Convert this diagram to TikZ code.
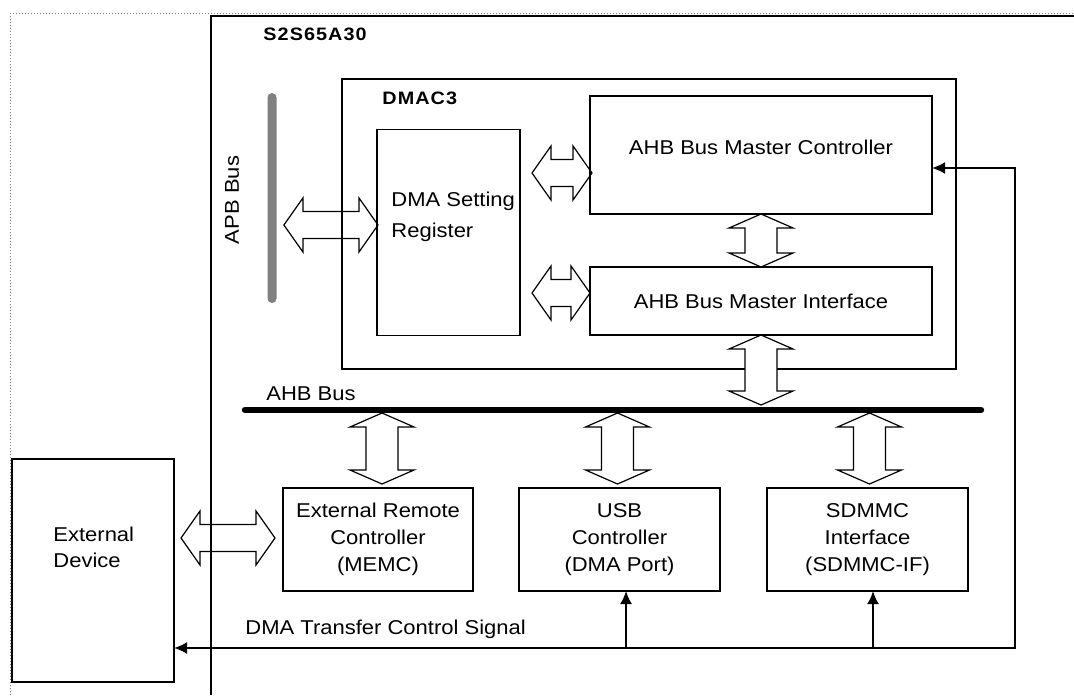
\documentclass[tikz,border=0pt]{standalone}
\usepackage{fontspec}
\setmainfont{Liberation Sans}[FakeStretch=1.1]
\newfontfamily\spacedfont{Liberation Sans}[FakeStretch=1.1,LetterSpace=6]
\usetikzlibrary{calc, arrows.meta}

\tikzset{
    blk/.style={draw, line width=0.6pt, inner sep=0pt, outer sep=0pt, align=center},
    lbl/.style={inner sep=0pt},
    title/.style={lbl, anchor=west, font=\fontsize{9}{11}\spacedfont\bfseries},
    sig/.style={line width=1pt, >={Latex[length=6.5pt,width=6pt]}},
    hfat/.style={line width=0.6pt, to path={let \p1=(\tikztostart), \p2=(\tikztotarget) in
        -- (\x1+9.5pt,\y1+13.5pt) -- (\x1+9.5pt,\y1+6.75pt) -- (\x2-9.5pt,\y1+6.75pt)
        -- (\x2-9.5pt,\y1+13.5pt) -- (\x2,\y1) -- (\x2-9.5pt,\y1-13.5pt)
        -- (\x2-9.5pt,\y1-6.75pt) -- (\x1+9.5pt,\y1-6.75pt) -- (\x1+9.5pt,\y1-13.5pt) -- cycle}},
    vfat/.style={line width=0.6pt, fill=white, to path={let \p1=(\tikztostart), \p2=(\tikztotarget) in
        -- (\x1+16pt,\y1-7pt) -- (\x1+8pt,\y1-7pt) -- (\x1+8pt,\y2+7pt)
        -- (\x1+16pt,\y2+7pt) -- (\x1,\y2) -- (\x1-16pt,\y2+7pt)
        -- (\x1-8pt,\y2+7pt) -- (\x1-8pt,\y1-7pt) -- (\x1-16pt,\y1-7pt) -- cycle}},
}

\begin{document}
\begin{tikzpicture}[x=0.5pt, y=-0.5pt, font=\fontsize{10}{13.5}\selectfont]
    \useasboundingbox (0,0) rectangle (1074,695);

    % frames
    \draw[densely dotted, gray, line width=0.5pt] (10,695) |- (1074,14);
    \draw[line width=0.6pt] (211,695) |- (1074,16);
    \node[title] (chip) at (263,34) {S2S65A30};

    % DMAC3 block
    \node[blk, minimum width=307pt, minimum height=145pt] (dmac) at (649,224) {};
    \node[title] (dmaclbl) at (382,98) {DMAC3};
    \node[blk, minimum width=71.5pt, minimum height=103pt] (dsr) at (448.5,232.5) {};
    \node[lbl, anchor=north west, align=left, font=\fontsize{10}{15.5}\selectfont] (dsrtext) at (391,192) {DMA Setting\\Register};
    \node[blk, minimum width=171pt, minimum height=59pt, text depth=8pt] (ctrl) at (761,155) {AHB Bus Master Controller};
    \node[blk, minimum width=171pt, minimum height=34pt] (intf) at (761,301) {AHB Bus Master Interface};

    % buses
    \node[fill=gray, rounded corners=2.25pt, minimum width=4.5pt, minimum height=105pt, inner sep=0pt] (apb) at (272,198) {};
    \node[lbl, rotate=90] (apblbl) at (232,200) {APB Bus};
    \coordinate (busL) at (245,410);
    \coordinate (busR) at (981,410);
    \draw[line width=3.2pt, line cap=round] (busL) -- (busR);
    \node[lbl, anchor=base west] (ahblbl) at (266,400) {AHB Bus};

    % modules
    \node[blk, minimum width=95pt, minimum height=51.5pt] (memc) at (378,539.5) {External Remote\\Controller\\(MEMC)};
    \node[blk, minimum width=100.5pt, minimum height=51.5pt] (usb) at (619.5,539.5) {USB\\Controller\\(DMA Port)};
    \node[blk, minimum width=100.5pt, minimum height=51.5pt] (sdmmc) at (867.5,539.5) {SDMMC\\Interface\\(SDMMC-IF)};
    \node[blk, minimum width=81pt, minimum height=111.5pt] (ext) at (93,570.5) {};
    \node[lbl, anchor=north west, align=left, font=\fontsize{10}{13}\selectfont] (exttext) at (53,527) {External\\Device};

    % data paths
    \draw[hfat] ($(apb.east |- dsr.west)+(7,-7.5)$) to ($(dsr.west)+(1,-7.5)$);
    \draw[hfat] ($(dsr.east |- ctrl.west)+(12,18)$) to ($(ctrl.west)+(2,18)$);
    \draw[hfat] ($(dsr.east |- intf.west)+(12,-8)$) to ($(intf.west)+(0,-8)$);
    \draw[hfat] ($(ext.east |- memc.west)+(7,-1.5)$) to ($(memc.west)+(-8,-1.5)$);
    \draw[vfat] (ctrl.south) to (intf.north);
    \draw[vfat] (intf.south) to ($(intf.south |- busL)+(0,-5)$);
    \draw[vfat] ($(memc.north |- busL)+(4,3)$) to ($(memc.north)+(4,-4)$);
    \draw[vfat] ($(usb.north |- busL)+(-2,3)$) to ($(usb.north)+(-2,-4)$);
    \draw[vfat] ($(sdmmc.north |- busL)+(2,3)$) to ($(sdmmc.north)+(2,-4)$);

    % control signal
    \coordinate (sigR) at (1015,168);
    \coordinate (sigB) at (1015,648);
    \draw[sig, <->] (sigR -| ctrl.east) -- (sigR) -- (sigB) -- (sigB -| ext.east);
    \draw[sig, ->] ($(usb.south |- sigB)+(6.5,0)$) -- ($(usb.south)+(6.5,0)$);
    \draw[sig, ->] ($(sdmmc.south |- sigB)+(5.5,0)$) -- ($(sdmmc.south)+(5.5,0)$);
    \node[lbl, anchor=base west] (siglbl) at (245,634) {DMA Transfer Control Signal};
\end{tikzpicture}
\end{document}
